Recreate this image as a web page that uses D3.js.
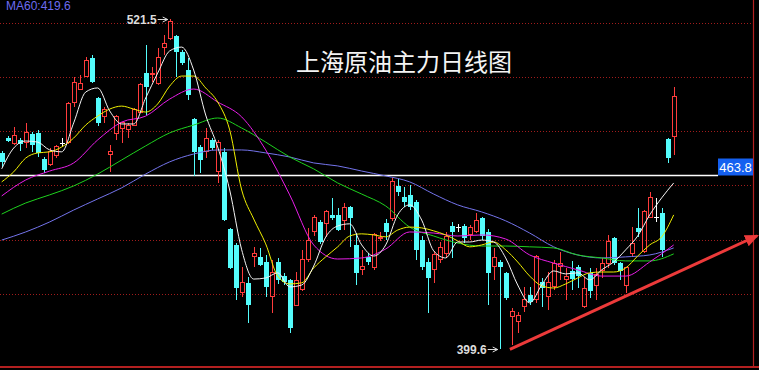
<!DOCTYPE html>
<html>
<head>
<meta charset="utf-8">
<script src="https://cdn.jsdelivr.net/npm/d3@7"></script>
<style>
  body { margin: 0; background: #000; overflow: hidden; }
</style>
</head>
<body>
<svg id="chart" width="759" height="370"></svg>
<script>
// daily candles
const opens = [472.0,477.5,475.3,476.8,475.7,479.0,479.4,469.8,467.9,471.2,475.6,475.7,490.8,495.6,500.1,507.1,492.3,485.3,471.6,479.0,
  481.2,480.5,482.3,487.1,501.5,500.8,497.8,510.8,514.1,515.2,509.3,502.6,484.5,474.2,472.4,476.8,465.0,472.4,443.9,438.0,
  420.3,424.0,433.9,433.6,431.7,418.8,431.7,426.5,425.1,415.8,421.4,432.5,442.8,446.5,446.1,449.1,449.1,447.2,452.0,438.0,
  428.8,433.6,429.5,440.6,446.1,447.6,459.8,455.7,456.5,453.9,439.8,431.7,428.8,432.5,435.0,445.0,444.3,445.0,441.7,442.8,
  448.0,442.8,429.9,431.7,427.7,411.4,409.9,415.1,419.5,417.7,424.3,418.8,422.5,430.2,425.1,428.4,429.9,415.1,427.7,423.2,
  428.4,431.3,440.6,431.3,423.2,435.0,444.3,435.4,448.3,448.3,449.8,477.3,477.9];
const highs = [472.7,478.3,481.6,477.5,483.1,479.7,480.5,470.5,473.8,475.1,477.5,490.8,500.1,500.8,507.4,508.2,492.7,489.0,475.1,486.0,
  483.4,483.1,488.6,497.8,511.9,503.7,510.8,515.6,521.5,515.6,510.0,507.1,484.9,475.1,481.2,477.5,476.8,473.8,444.3,438.7,
  429.9,426.2,437.3,436.9,434.3,432.5,433.2,427.7,425.4,428.0,436.2,444.3,449.1,447.2,450.9,455.4,451.7,453.5,452.4,442.4,
  436.2,435.0,442.4,442.8,447.6,462.7,462.4,459.4,460.2,454.6,441.4,433.2,435.8,439.1,442.8,446.5,445.9,445.8,445.4,449.9,
  448.3,444.0,436.9,432.5,428.0,414.7,413.3,422.5,422.5,434.3,425.8,428.0,432.5,435.4,429.5,432.1,430.6,426.2,429.5,429.5,
  433.2,441.7,441.0,431.7,429.9,444.6,451.7,450.9,457.6,455.4,451.7,477.5,496.4];
const lows = [466.8,476.0,474.9,472.7,473.8,472.3,470.5,464.6,467.2,470.1,474.2,475.3,489.0,495.3,500.0,497.8,482.0,483.1,465.0,476.8,
  475.7,477.5,482.0,486.8,486.0,498.2,497.1,508.2,513.7,500.1,504.5,491.6,463.5,464.6,470.1,473.1,460.9,446.9,429.1,417.7,
  418.8,409.2,429.9,430.2,418.8,412.9,423.6,423.2,405.5,415.5,421.0,431.7,441.3,438.4,441.0,447.2,443.2,443.5,437.3,423.2,
  426.9,430.6,428.8,439.5,439.8,446.9,456.1,452.0,450.9,432.5,428.8,412.9,424.0,431.3,433.2,433.2,442.8,438.7,439.8,442.4,
  439.8,415.8,425.1,399.6,417.7,401.1,405.5,413.3,415.8,416.6,415.1,414.0,421.4,425.1,417.7,421.4,422.1,414.7,418.4,417.7,
  425.8,429.5,430.6,425.1,420.3,433.6,441.0,435.0,448.0,446.5,433.6,468.3,471.2];
const closes = [468.7,476.4,478.3,475.3,479.7,474.9,472.0,465.7,472.4,474.2,475.6,490.1,498.2,497.5,506.3,498.2,483.1,487.9,472.4,485.3,
  483.1,482.3,487.9,497.1,496.4,501.2,507.4,512.6,520.7,509.3,505.2,493.4,472.4,469.4,477.2,473.8,476.0,447.3,429.5,422.1,
  424.3,415.8,434.7,430.6,422.5,427.7,425.1,424.3,407.3,424.7,432.5,439.8,448.0,439.1,450.2,448.0,443.5,451.7,448.0,427.7,
  429.9,431.7,441.7,440.9,442.8,461.6,457.6,453.9,452.0,436.2,429.9,425.8,434.3,436.9,441.3,442.8,444.3,440.6,444.3,447.2,
  441.3,427.7,433.2,429.9,418.4,413.3,411.8,417.7,416.9,433.6,422.1,424.0,431.3,431.3,426.5,425.4,426.5,421.8,421.0,426.9,
  431.0,439.1,431.3,428.4,429.5,438.7,442.8,450.2,455.7,448.3,436.2,470.1,492.7];

// moving averages (MA5/MA10 every 2nd day, the others every 4th)
const ma5 = [466.1,473.8,476.4,476.0,473.1,472.4,483.1,494.5,496.0,487.5,482.7,482.7,492.3,501.5,509.7,511.1,502.6,486.0,474.2,458.3,
  436.2,425.4,425.8,427.7,422.5,423.2,430.2,440.9,445.0,445.8,438.0,433.9,438.0,449.1,452.8,447.2,435.8,433.2,439.1,439.1,
  439.8,439.1,433.2,423.2,416.6,423.2,428.4,427.3,427.7,425.1,428.8,431.7,436.2,441.3,449.1,455.4,460.9];
const ma10 = [461.3,465.0,470.1,472.0,472.4,474.2,477.5,482.3,485.6,488.2,489.3,488.2,487.1,490.1,496.7,500.4,500.4,496.0,490.8,480.5,
  458.3,447.6,438.4,426.5,423.6,424.0,429.5,433.6,437.3,441.3,442.1,441.7,441.0,443.5,444.6,444.3,443.2,441.7,439.5,437.3,
  438.0,439.1,436.2,431.7,426.5,422.9,422.1,423.6,425.8,427.7,428.0,428.0,429.5,433.9,438.0,441.0,449.1];
const ma20 = [456.1,462.0,465.3,468.3,476.8,483.4,485.6,491.9,495.6,490.8,485.3,473.1,456.5,438.0,432.8,433.2,436.5,442.8,442.4,441.3,
  441.7,440.2,434.3,431.3,428.8,426.5,426.5,431.7,438.0];
const ma30 = [449.4,453.5,456.5,459.8,464.2,469.4,474.6,479.4,482.3,484.9,481.2,476.0,470.5,466.1,460.9,456.8,452.4,444.6,441.3,438.7,
  437.6,437.6,437.3,436.9,434.3,433.2,432.1,432.1,434.7];
const ma60 = [439.8,442.8,446.5,450.9,455.0,459.1,464.2,468.7,471.6,473.1,473.1,472.0,470.5,468.3,467.2,465.3,463.5,461.3,456.8,452.8,
  450.2,446.9,442.4,437.3,434.3,433.2,433.6,434.3,436.9];

const gridLevels = [520, 500, 480, 460, 440, 420];
const markLine = 463.8;
const highMark = { i: 28, p: 521.5 };
const lowMark = { i: 83, p: 399.6 };
const trend = [[84.7, 399.4], [125.9, 441.4]];
const title = "上海原油主力日线图";
const maLabel = "MA60:419.6";

const svg = d3.select("#chart"),
    width = +svg.attr("width"),
    height = +svg.attr("height");
const axisX = width - 6, bottomY = height - 3;

const x = d3.scaleLinear().domain([0, opens.length - 1]).range([1.7, 673.7]);
const y = d3.scaleLinear().domain([400, 520]).range([347.8, 23]);

svg.append("rect").attr("width", width).attr("height", height).attr("fill", "#000");

// dotted price grid
svg.append("g").selectAll("line")
    .data(gridLevels)
    .enter().append("line")
    .attr("x1", 0).attr("x2", axisX)
    .attr("y1", d => Math.round(y(d)) + 0.5).attr("y2", d => Math.round(y(d)) + 0.5)
    .attr("stroke", "#a11c1c")
    .attr("stroke-dasharray", "1,2");

// frame
svg.append("line").attr("x1", axisX + 0.5).attr("x2", axisX + 0.5).attr("y1", 0).attr("y2", bottomY)
    .attr("stroke", "#b32020").attr("stroke-width", 1.2);
svg.append("line").attr("x1", 0).attr("x2", width).attr("y1", bottomY).attr("y2", bottomY)
    .attr("stroke", "#b32020").attr("stroke-width", 2);

// reference line + label
const my = Math.round(y(markLine)) + 0.5;
svg.append("line").attr("x1", 0).attr("x2", 718).attr("y1", my).attr("y2", my)
    .attr("stroke", "#fff").attr("stroke-width", 1.5);
svg.append("rect").attr("x", 718).attr("y", my - 17).attr("width", axisX - 718).attr("height", 17)
    .attr("fill", "#1560f0");
svg.append("text").attr("x", (718 + axisX) / 2).attr("y", my - 3.5)
    .attr("text-anchor", "middle")
    .style("font", "13px 'Liberation Sans', Arial, sans-serif")
    .attr("fill", "#fff")
    .text(markLine.toFixed(1));

// moving averages
const maLine = d3.line().curve(d3.curveMonotoneX);
const maSeries = [
    { vals: ma60, step: 4, color: "#7474ec" },
    { vals: ma30, step: 4, color: "#1ed21e" },
    { vals: ma20, step: 4, color: "#e81ee8" },
    { vals: ma10, step: 2, color: "#f0f000" },
    { vals: ma5, step: 2, color: "#f4f4f4" }
];

// candles
const candles = opens.map((o, i) => ({ i, o, h: highs[i], l: lows[i], c: closes[i] }));
const up = "#ff3c3c", down = "#54fcfc", doji = "#ffffff";
const colorOf = d => d.c === d.o ? doji : (d.c > d.o ? up : down);

const g = svg.append("g").selectAll("g")
    .data(candles)
    .enter().append("g")
    .attr("shape-rendering", "crispEdges");

g.each(function (d) {
    const el = d3.select(this);
    const cx = Math.round(x(d.i)) + 0.5;
    const col = colorOf(d);
    const top = y(Math.max(d.o, d.c)), bot = y(Math.min(d.o, d.c));
    if (d.c > d.o) {
        el.append("line").attr("x1", cx).attr("x2", cx).attr("y1", y(d.h)).attr("y2", top).attr("stroke", col);
        el.append("line").attr("x1", cx).attr("x2", cx).attr("y1", bot).attr("y2", y(d.l)).attr("stroke", col);
        el.append("rect").attr("x", cx - 2).attr("y", top).attr("width", 4).attr("height", Math.max(1, bot - top))
            .attr("fill", "none").attr("stroke", col);
    } else if (d.c < d.o) {
        el.append("line").attr("x1", cx).attr("x2", cx).attr("y1", y(d.h)).attr("y2", y(d.l)).attr("stroke", col);
        el.append("rect").attr("x", cx - 2.5).attr("y", top).attr("width", 5).attr("height", Math.max(1, bot - top))
            .attr("fill", col);
    } else {
        el.append("line").attr("x1", cx).attr("x2", cx).attr("y1", y(d.h)).attr("y2", y(d.l)).attr("stroke", col);
        el.append("line").attr("x1", cx - 2.5).attr("x2", cx + 2.5).attr("y1", top).attr("y2", top).attr("stroke", col);
    }
});

svg.append("g").selectAll("path")
    .data(maSeries)
    .enter().append("path")
    .attr("d", s => maLine(s.vals.map((v, k) => [x(k * s.step), y(v)])))
    .attr("fill", "none")
    .attr("stroke", d => d.color)
    .attr("stroke-width", 1);

// high / low annotations
const arrowHead = (px, py) => `M${px - 5},${py - 2.5}L${px},${py}L${px - 5},${py + 2.5}`;
[highMark, lowMark].forEach(m => {
    const tx = x(m.i), ty = Math.round(y(m.p)) + 0.5;
    svg.append("text").attr("x", tx - 13).attr("y", ty + 4.5)
        .attr("text-anchor", "end")
        .style("font", "bold 12px 'Liberation Sans', Arial, sans-serif")
        .attr("fill", "#dcdcdc")
        .text(m.p.toFixed(1));
    svg.append("line").attr("x1", tx - 12).attr("x2", tx - 2).attr("y1", ty).attr("y2", ty)
        .attr("stroke", "#dcdcdc");
    svg.append("path").attr("d", arrowHead(tx - 2, ty)).attr("fill", "none").attr("stroke", "#dcdcdc");
});

// trend arrow
svg.append("defs").append("marker")
    .attr("id", "tip")
    .attr("markerUnits", "userSpaceOnUse")
    .attr("viewBox", "0 0 14 12")
    .attr("refX", 12).attr("refY", 6)
    .attr("markerWidth", 14).attr("markerHeight", 12)
    .attr("orient", "auto")
    .append("path").attr("d", "M0,0L14,6L0,12Z").attr("fill", "#ec3a3a");

svg.append("line")
    .attr("x1", x(trend[0][0])).attr("y1", y(trend[0][1]))
    .attr("x2", x(trend[1][0])).attr("y2", y(trend[1][1]))
    .attr("stroke", "#ec3a3a").attr("stroke-width", 3)
    .attr("marker-end", "url(#tip)");

// texts
svg.append("text").attr("x", 404).attr("y", 71)
    .attr("text-anchor", "middle")
    .style("font", "24px 'Noto Sans CJK SC', sans-serif")
    .attr("fill", "#f4f4f4")
    .text(title);

svg.append("text").attr("x", 6).attr("y", 10)
    .style("font", "12px 'Liberation Sans', Arial, sans-serif")
    .attr("fill", "#6c6cf0")
    .text(maLabel);
</script>
</body>
</html>
